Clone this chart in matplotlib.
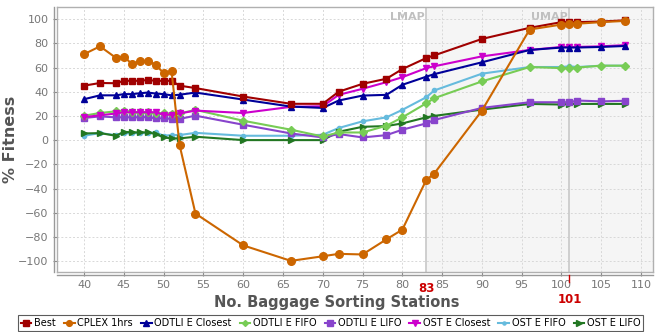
import matplotlib
matplotlib.use("Agg")
import matplotlib.pyplot as plt
from matplotlib.lines import Line2D

stations = [40, 42, 44, 45, 46, 47, 48, 49, 50, 51, 52, 54, 60, 66, 70, 72, 75, 78, 80, 83, 84, 90, 96, 100, 101, 102, 105, 108]

best = [45, 47.2, 47, 49, 49, 49, 49.7, 49, 49, 49, 45, 43, 36, 30, 30, 40, 46.5, 50.7, 58.7, 67.8, 70, 83.6, 92.8, 97.5, 97.5, 97.5, 98, 99]
cplex = [71, 77.5, 68, 69, 63, 65, 65.5, 62.3, 55.4, 56.8, -4, -60.7, -87, -99.8, -96, -94, -94.5, -82, -74, -33, -27.7, 24.4, 91.4, 95.5, 96, 96.2, 97.5, 98.5]
odtli_closest = [33.8, 37, 37, 38, 38, 38.7, 39.3, 38.5, 38, 37, 37.5, 39.3, 33.5, 27.7, 26.6, 32.7, 36.8, 37.4, 45.7, 52.4, 54.5, 64.3, 74.5, 76.5, 76.5, 76.5, 77, 77.8]
odtli_fifo = [20.2, 22.4, 23.8, 24.4, 23.5, 23, 23, 22.1, 22, 21.7, 22, 25, 16, 8.6, 3, 6.3, 6.3, 11.9, 18.8, 30.4, 34.6, 48.5, 60.4, 59.5, 59.5, 60, 61.5, 61.5]
odtli_lifo = [18.3, 19.6, 18.8, 18.8, 18.8, 18.8, 19, 18, 18, 17.5, 17.5, 20.2, 12.7, 5.5, 2.2, 5, 2.2, 4.1, 8.6, 13.8, 16.6, 26.6, 31.3, 31.3, 31.3, 32.7, 32, 32.5]
ost_closest = [19, 20.5, 22, 23, 23, 23, 23, 23, 21, 21, 22, 24.4, 22.4, 27.5, 28, 37.4, 42.4, 47.9, 52, 59.5, 61, 69.2, 74.5, 77, 77, 77, 77.5, 78.5]
ost_fifo = [3.6, 5.8, 4.1, 5.5, 5.8, 5.8, 5.8, 6.4, 3.6, 4.2, 4.2, 6, 3.6, 3.6, 4.4, 10, 15.5, 18.8, 25, 35.4, 41, 54.9, 60.4, 60.4, 61, 60.4, 61.5, 61.5]
ost_lifo = [5.5, 5.8, 3.6, 6.9, 6.4, 6.4, 6.4, 5, 2.2, 1.4, 1.4, 2.8, 0, 0, 0, 6.9, 11, 11.6, 13.8, 18.8, 20, 25.2, 29.9, 29.4, 29.9, 29.9, 29.9, 29.9]

series_names = ["Best", "CPLEX 1hrs", "ODTLI E Closest", "ODTLI E FIFO", "ODTLI E LIFO", "OST E Closest", "OST E FIFO", "OST E LIFO"]
x_ticks = [40, 45, 50, 55, 60, 65, 70, 75, 80, 85, 90, 95, 100, 105, 110]
y_ticks = [-100, -80, -60, -40, -20, 0, 20, 40, 60, 80, 100]
lmap, umap = 83, 101

series = [best, cplex, odtli_closest, odtli_fifo, odtli_lifo, ost_closest, ost_fifo, ost_lifo]
colors = ["#A00000", "#CC6600", "#000099", "#77CC55", "#8844CC", "#CC00CC", "#66BBDD", "#227722"]
markers = ["s", "o", "^", "D", "s", "v", "o", ">"]
msizes = [5, 5.5, 5, 4, 5, 5, 3, 5]

fig = plt.figure(figsize=(6.57, 3.32), dpi=100)
ax = fig.add_axes([57/657, 60/332, 596/657, 265/332])
ax.set_xlim(36.6, 111.5)
ax.set_ylim(-109, 110)

ax.axvspan(lmap, 111.5, color="#f5f5f5", zorder=0)
ax.axvline(lmap, color="#c8c8c8", lw=1.2, zorder=1)
ax.axvline(umap, color="#c8c8c8", lw=1.2, zorder=1)
ax.text(lmap - 0.2, 106, "LMAP", ha="right", va="top", color="#c0c0c0", fontsize=8, fontweight="bold")
ax.text(umap - 0.2, 106, "UMAP", ha="right", va="top", color="#c0c0c0", fontsize=8, fontweight="bold")

ax.set_xticks(x_ticks)
ax.set_yticks(y_ticks)
ax.grid(True, color="#d8d8d8", ls=(0, (2, 2)), lw=0.7, zorder=0)
ax.set_axisbelow(True)

order = [6, 7, 4, 3, 5, 2, 0, 1]
for i in order:
    ax.plot(stations, series[i], color=colors[i], marker=markers[i], ms=msizes[i], lw=1.5,
            label=series_names[i], zorder=3 + (1 if i == 1 else 0))

for s in ax.spines.values():
    s.set_color("#b0b0b0")
    s.set_linewidth(1.0)
ax.tick_params(axis="both", colors="#888888", labelcolor="#777777", labelsize=8, length=3, width=0.8, pad=3)

# offset axis lines
ax.add_line(Line2D([-3/596, -3/596], [0, 1], transform=ax.transAxes, color="#999999", lw=1.0, clip_on=False))
ax.add_line(Line2D([0, 1], [-3/265, -3/265], transform=ax.transAxes, color="#999999", lw=1.0, clip_on=False))

# red annotations
ax.text(lmap, -122.5, str(lmap), ha="center", va="center", color="#CC0000", fontsize=8.5, fontweight="bold")
ax.text(umap, -132, str(umap), ha="center", va="center", color="#CC0000", fontsize=8.5, fontweight="bold")
ax.plot([umap, umap], [-111.5, -117], color="#CC0000", lw=1, clip_on=False)

ax.set_xlabel("No. Baggage Sorting Stations", fontsize=10.5, fontweight="bold", color="#555555", labelpad=0)
ax.xaxis.set_label_coords(0.47, -0.085)
ax.xaxis.label.set_va("top")
ax.set_ylabel("% Fitness", fontsize=11.5, fontweight="bold", color="#555555")
ax.yaxis.set_label_coords(-57/596 + 18/596, 0.5)

handles, labels = ax.get_legend_handles_labels()
lmap_h = dict(zip(labels, handles))
leg = fig.legend([lmap_h[n] for n in series_names], series_names, loc="lower center", bbox_to_anchor=(0.503, 0.0),
                 ncol=8, fontsize=7, frameon=True, fancybox=False, edgecolor="#333333",
                 handlelength=1.1, handletextpad=0.25, columnspacing=0.85, borderpad=0.3, borderaxespad=0.1,
                 markerscale=0.75)
leg.get_frame().set_linewidth(0.8)

fig.savefig("out.png", dpi=100)
